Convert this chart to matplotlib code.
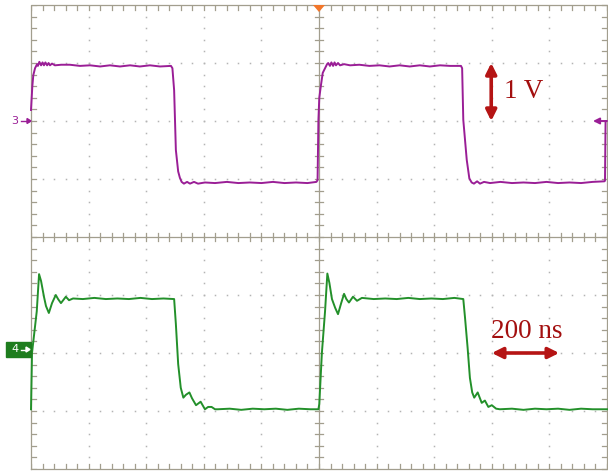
import matplotlib
matplotlib.use("Agg")
import matplotlib.pyplot as plt
from matplotlib.patches import Polygon, Rectangle

# ---- scope settings ----
NS_PER_DIV = 200          # horizontal scale
X_DIVS, Y_DIVS = 10, 8
CH3_OFFSET = 2.0          # ground reference of channel 3 (div)
CH4_OFFSET = -2.0         # ground reference of channel 4 (div)

# ---- channel 3 (purple): time [ns], voltage [V] ----
ch3_t = [0, 4.5, 8, 14, 21, 24, 29, 35, 40, 45, 50, 56, 61, 66, 73, 83,
         105, 135, 170, 205, 240, 274, 309, 344, 378, 413, 448, 486,
         491, 497, 503, 511, 517, 523, 531, 542, 552, 566, 580, 604, 639,
         680, 720, 760, 800, 840, 880, 920, 960, 991,
         995, 998, 1001, 1006, 1013, 1021, 1028, 1032, 1038, 1043, 1049, 1054,
         1059, 1066, 1073, 1087, 1108, 1140, 1175, 1210, 1245, 1280, 1315,
         1350, 1385, 1420, 1455, 1493,
         1497, 1501, 1513, 1522, 1530, 1538, 1549, 1559, 1573, 1594,
         1630, 1670, 1710, 1750, 1790, 1830, 1870, 1910, 1950, 1991,
         1993, 1995]
ch3_v = [0.19, 0.59, 0.79, 0.91, 0.98, 0.95, 1.02, 0.96, 1.01, 0.96, 1.01, 0.96,
         1.00, 0.96, 0.99, 0.96,
         0.97, 0.97, 0.95, 0.96, 0.94, 0.96, 0.94, 0.96, 0.94, 0.96, 0.94, 0.95,
         0.91, 0.53, -0.50, -0.87, -0.98, -1.05, -1.08, -1.05, -1.08, -1.05,
         -1.08, -1.06, -1.07,
         -1.05, -1.07, -1.06, -1.07, -1.05, -1.07, -1.06, -1.07, -1.05,
         -1.02, 0.02, 0.40, 0.59, 0.83, 0.91, 0.98, 1.00, 0.95, 1.01, 0.95, 1.01,
         0.96, 1.00, 0.96, 0.98, 0.96, 0.97, 0.95, 0.96, 0.94, 0.96, 0.94,
         0.96, 0.94, 0.96, 0.95, 0.95,
         0.91, 0.02, -0.67, -0.99, -1.06, -1.08, -1.04, -1.08, -1.05, -1.07,
         -1.05, -1.07, -1.06, -1.07, -1.05, -1.07, -1.06, -1.07, -1.05, -1.04,
         -1.03, 0.0]

# ---- channel 4 (green): time [ns], voltage [V] ----
ch4_t = [0, 3.5, 20, 28, 35, 45, 52, 62, 73, 86, 94, 104, 121, 132, 146,
         180, 220, 260, 300, 340, 380, 420, 460, 497,
         503, 511, 520, 529, 538, 550, 559, 573, 589, 604, 615, 627, 639, 649,
         690, 730, 770, 810, 850, 890, 930, 970, 998,
         1001, 1010, 1021, 1029, 1036, 1045, 1056, 1066, 1077, 1087, 1095,
         1104, 1118, 1132, 1149,
         1190, 1230, 1270, 1310, 1350, 1390, 1430, 1470, 1501,
         1507, 1516, 1524, 1532, 1539, 1551, 1565, 1576, 1588, 1600, 1615, 1628,
         1670, 1710, 1750, 1790, 1830, 1870, 1910, 1950, 2000]
ch4_v = [-0.97, 0.0, 0.72, 1.36, 1.24, 0.97, 0.81, 0.69, 0.86, 1.00, 0.93,
         0.86, 0.97, 0.91, 0.94,
         0.93, 0.95, 0.93, 0.94, 0.93, 0.95, 0.93, 0.94, 0.93,
         0.50, -0.19, -0.60, -0.77, -0.72, -0.68, -0.78, -0.90, -0.84, -0.97,
         -0.93, -0.93, -0.97, -0.97,
         -0.96, -0.98, -0.96, -0.97, -0.96, -0.98, -0.96, -0.97, -0.97,
         -0.88, 0.0, 0.72, 1.37, 1.21, 0.93, 0.78, 0.67, 0.86, 1.02, 0.93,
         0.87, 0.97, 0.90, 0.95,
         0.93, 0.94, 0.93, 0.95, 0.93, 0.94, 0.93, 0.95, 0.93,
         0.61, 0.09, -0.43, -0.68, -0.77, -0.68, -0.86, -0.82, -0.93, -0.90,
         -0.96, -0.97,
         -0.96, -0.98, -0.96, -0.97, -0.96, -0.98, -0.96, -0.97, -0.97]

PURPLE = "#9A1E96"
GREEN = "#23902A"
FRAME = "#A29E8E"
DOTS = "#B4B4B4"
RED = "#B51414"
TEXT_RED = "#A30F0F"

W, H = 608, 472
fig = plt.figure(figsize=(W / 100, H / 100), dpi=100)
fig.patch.set_facecolor("white")
L, R, T, B = 31, 607, 5, 469
ax = fig.add_axes([L / W, 1 - B / H, (R - L) / W, (B - T) / H])
ax.set_xlim(0, X_DIVS * NS_PER_DIV)
ax.set_ylim(-Y_DIVS / 2, Y_DIVS / 2)
ax.axis("off")

x_px = NS_PER_DIV * X_DIVS / (R - L)     # ns per pixel
y_px = Y_DIVS / (B - T)                 # div per pixel
xmax = X_DIVS * NS_PER_DIV
ymax = Y_DIVS / 2

# dotted graticule
sub = 5
for i in range(1, X_DIVS):
    if i == X_DIVS // 2:
        continue
    xs = [i * NS_PER_DIV] * (Y_DIVS * sub + 1)
    ys = [-ymax + k / sub for k in range(Y_DIVS * sub + 1)]
    ax.plot(xs, ys, ls="none", marker="s", ms=1.1, mew=0, color=DOTS)
for j in range(1, Y_DIVS):
    if j == Y_DIVS // 2:
        continue
    yv = -ymax + j
    xs = [k * NS_PER_DIV / sub for k in range(X_DIVS * sub + 1)]
    ax.plot(xs, [yv] * len(xs), ls="none", marker="s", ms=1.1, mew=0, color=DOTS)

# frame and centre cross
lw = 0.9
ax.plot([0, xmax, xmax, 0, 0], [-ymax, -ymax, ymax, ymax, -ymax],
        color=FRAME, lw=lw, clip_on=False)
ax.plot([xmax / 2, xmax / 2], [-ymax, ymax], color=FRAME, lw=lw)
ax.plot([0, xmax], [0, 0], color=FRAME, lw=lw)

tick = 5
for k in range(X_DIVS * sub + 1):
    x = k * NS_PER_DIV / sub
    ax.plot([x, x], [ymax, ymax - tick * y_px], color=FRAME, lw=lw)
    ax.plot([x, x], [-ymax, -ymax + tick * y_px], color=FRAME, lw=lw)
    ax.plot([x, x], [-4 * y_px, 4 * y_px], color=FRAME, lw=lw)
for k in range(Y_DIVS * sub + 1):
    y = -ymax + k / sub
    ax.plot([0, tick * x_px], [y, y], color=FRAME, lw=lw)
    ax.plot([xmax, xmax - tick * x_px], [y, y], color=FRAME, lw=lw, clip_on=False)
    ax.plot([xmax / 2 - 4 * x_px, xmax / 2 + 4 * x_px], [y, y], color=FRAME, lw=lw)

# traces
ax.plot(ch3_t, [CH3_OFFSET + v for v in ch3_v], color=PURPLE, lw=1.4,
        solid_joinstyle="round", clip_on=False)
ax.plot(ch4_t, [CH4_OFFSET + v for v in ch4_v], color=GREEN, lw=1.4,
        solid_joinstyle="round", clip_on=False)

# trigger position marker
tri = Polygon([[xmax / 2 - 6 * x_px, ymax], [xmax / 2 + 6 * x_px, ymax],
               [xmax / 2, ymax - 7 * y_px]], closed=True,
              facecolor="#F2762A", edgecolor="none", clip_on=False, zorder=5)
ax.add_patch(tri)

# right-side arrow of channel 3
ax.annotate("", xy=(xmax - 14 * x_px, CH3_OFFSET), xytext=(xmax, CH3_OFFSET),
            arrowprops=dict(arrowstyle="-|>", color=PURPLE, lw=1.4,
                            mutation_scale=9, shrinkA=0, shrinkB=0),
            annotation_clip=False)

# channel reference markers on the left
def fx(px):
    return px / W

def fy(py):
    return 1 - py / H

y3 = 237 - CH3_OFFSET * 58
fig.text(fx(15), fy(y3), "3", color=PURPLE, fontsize=8, ha="center", va="center",
         family="DejaVu Sans")
fig.add_artist(plt.Line2D([fx(21), fx(29)], [fy(y3), fy(y3)], color=PURPLE, lw=1))
fig.add_artist(Polygon([[fx(31), fy(y3)], [fx(27), fy(y3 - 2.5)], [fx(27), fy(y3 + 2.5)]],
                       closed=True, color=PURPLE))

y4 = 237 - CH4_OFFSET * 58
fig.add_artist(Rectangle((fx(6), fy(y4 + 4)), fx(25), 15 / H, color="#1E7D1E"))
fig.text(fx(15), fy(y4 - 3.5), "4", color="white", fontsize=8, ha="center",
         va="center", family="DejaVu Sans")
fig.add_artist(plt.Line2D([fx(21), fx(27)], [fy(y4 - 3.5), fy(y4 - 3.5)],
                          color="white", lw=1))
fig.add_artist(Polygon([[fx(30), fy(y4 - 3.5)], [fx(26), fy(y4 - 6)], [fx(26), fy(y4 - 1)]],
                       closed=True, color="white"))

# scale annotations
ax.annotate("", xy=(1000 + 2.99 * NS_PER_DIV, CH3_OFFSET + 1.0),
            xytext=(1000 + 2.99 * NS_PER_DIV, CH3_OFFSET),
            arrowprops=dict(arrowstyle="<|-|>", color=RED, lw=2.6,
                            mutation_scale=16, shrinkA=0, shrinkB=0))
ax.text(1000 + 3.22 * NS_PER_DIV, CH3_OFFSET + 0.5, "1 V", color=TEXT_RED,
        fontsize=19.5, family="Liberation Serif", ha="left", va="center")

ax.annotate("", xy=(1000 + 4.17 * NS_PER_DIV, CH4_OFFSET),
            xytext=(1000 + 3.0 * NS_PER_DIV, CH4_OFFSET),
            arrowprops=dict(arrowstyle="<|-|>", color=RED, lw=2.6,
                            mutation_scale=16, shrinkA=0, shrinkB=0))
ax.text(1000 + 3.6 * NS_PER_DIV, CH4_OFFSET + 0.26, "200 ns", color=TEXT_RED,
        fontsize=19.5, family="Liberation Serif", ha="center", va="baseline")

fig.savefig("out.png", dpi=100, facecolor="white")
